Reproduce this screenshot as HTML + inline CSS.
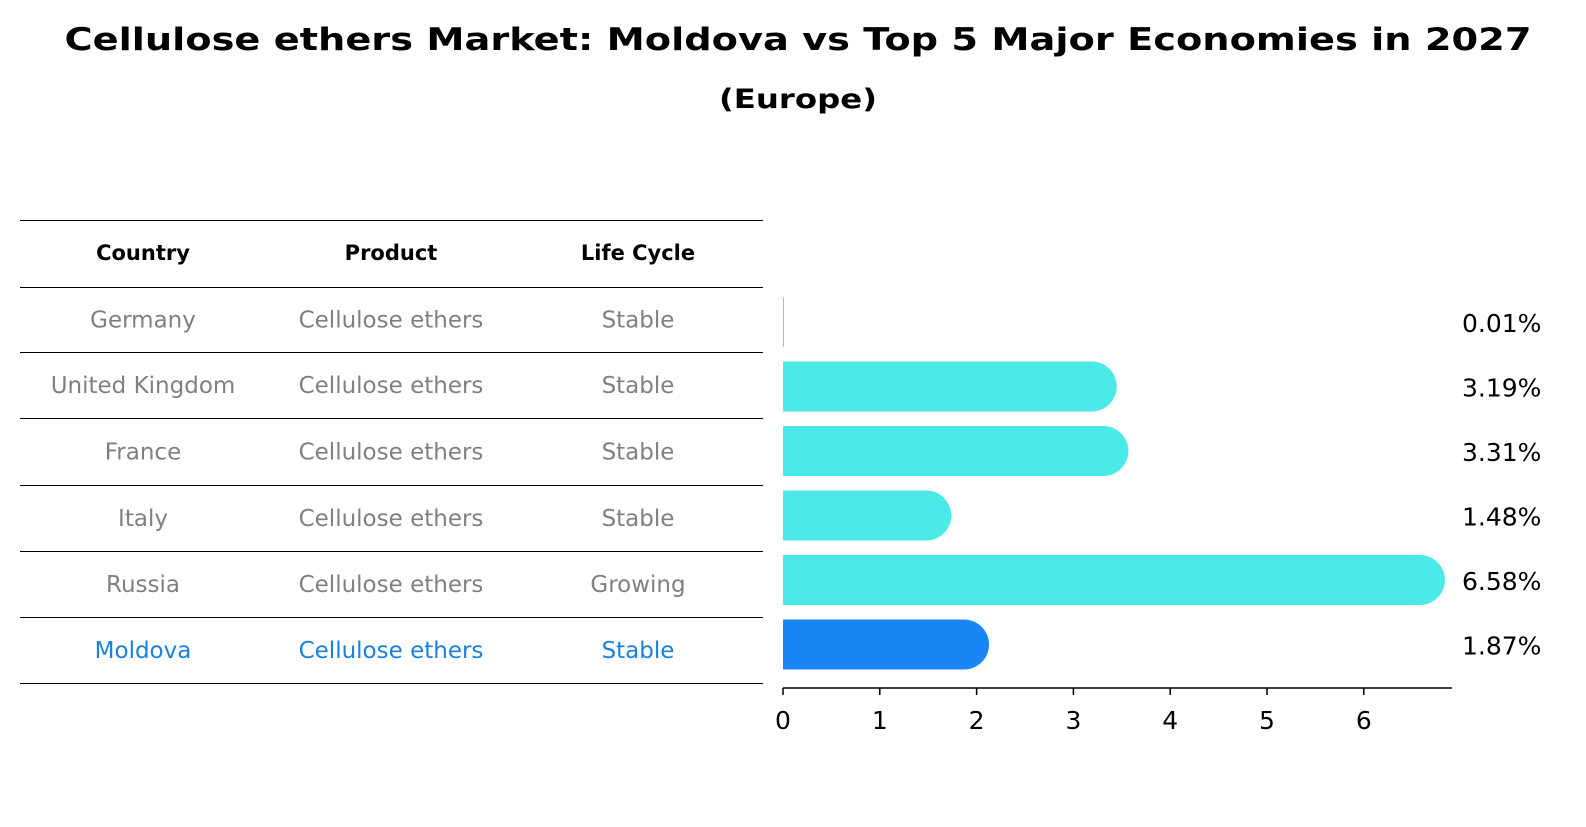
<!DOCTYPE html>
<html><head><meta charset="utf-8"><style>
body{margin:0;background:#fff;font-family:"DejaVu Sans","Liberation Sans",sans-serif}
svg text{font-family:"DejaVu Sans","Liberation Sans",sans-serif}
</style></head><body>
<svg width="1586" height="823" xmlns="http://www.w3.org/2000/svg" id="chart">
<text x="798" y="50" text-anchor="middle" font-size="31" font-weight="bold" textLength="1467" lengthAdjust="spacingAndGlyphs">Cellulose ethers Market: Moldova vs Top 5 Major Economies in 2027</text>
<text x="798" y="108" text-anchor="middle" font-size="27" font-weight="bold" textLength="158" lengthAdjust="spacingAndGlyphs">(Europe)</text>
<g id="table"></g>
<g id="bars"></g>
</svg>
<script>
const countries=["Germany","United Kingdom","France","Italy","Russia","Moldova"];
const products=["Cellulose ethers","Cellulose ethers","Cellulose ethers","Cellulose ethers","Cellulose ethers","Cellulose ethers"];
const lifeCycles=["Stable","Stable","Stable","Stable","Growing","Stable"];
const values=[0.01,3.19,3.31,1.48,6.58,1.87];
const valueLabels=["0.01%","3.19%","3.31%","1.48%","6.58%","1.87%"];
const ticks=[0,1,2,3,4,5,6];
const NS="http://www.w3.org/2000/svg";
const x0=783,scale=96.8;
const xs=v=>x0+v*scale;
const rowY=i=>322+i*64.5;
function mk(tag,attrs,parent,txt){const e=document.createElementNS(NS,tag);for(const k in attrs)e.setAttribute(k,attrs[k]);if(txt!==undefined)e.textContent=txt;parent.appendChild(e);return e;}
const tb=document.getElementById('table');
const lines=[220,287,352,418,485,551,617,683];
lines.forEach(y=>{const l=mk('line',{x1:20,x2:763,y1:y+0.5,y2:y+0.5,stroke:'#000','stroke-width':1},tb);

});
const cols=[143,391,638];
["Country","Product","Life Cycle"].forEach((h,j)=>{const t=mk('text',{x:cols[j],y:260,'text-anchor':'middle','font-size':21,'font-weight':'bold'},tb,h);

});
countries.forEach((c,i)=>{const y=(lines[i+1]+lines[i+2])/2+8;const col=i===5?'#1a80e0':'#808080';
[c,products[i],lifeCycles[i]].forEach((v,j)=>{const t=mk('text',{x:cols[j],y:y,'text-anchor':'middle','font-size':23,fill:col},tb,v);

});});
const bg=document.getElementById('bars');
values.forEach((v,i)=>{const cy=rowY(i),h=50,r=25;const w=xs(v)-x0;const col=i===5?'#1a86f5':'#4beae8';
let d;
if(w<1){d=`M${x0},${cy-h/2}h1v${h}h-1z`;}else{d=`M${x0},${cy-h/2}H${x0+w}A${r},${r} 0 0 1 ${x0+w},${cy+h/2}H${x0}Z`;}
const p=mk('path',{d:d,fill:col},bg);


const t=mk('text',{x:1462,y:cy+10,'font-size':25},bg,valueLabels[i]);

});
const ax=mk('line',{x1:x0,x2:1452,y1:688,y2:688,stroke:'#000','stroke-width':1.5},bg);


ticks.forEach(t=>{const tl=mk('line',{x1:xs(t),x2:xs(t),y1:688,y2:695,stroke:'#000','stroke-width':1.5},bg);


const tx=mk('text',{x:xs(t),y:729,'text-anchor':'middle','font-size':25},bg,String(t));

});
</script>
</body></html>
